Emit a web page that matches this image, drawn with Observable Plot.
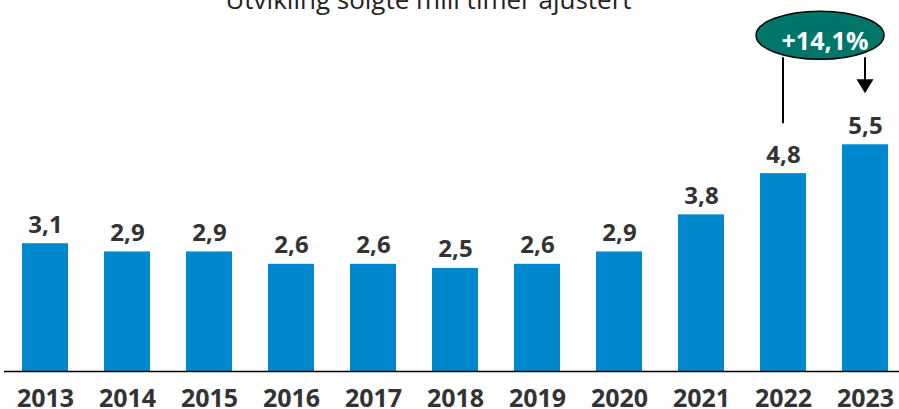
<!DOCTYPE html>
<html><head><meta charset="utf-8">
<script src="https://cdn.jsdelivr.net/npm/d3@7"></script>
<script src="https://cdn.jsdelivr.net/npm/@observablehq/plot@0.6"></script>
<style>body{margin:0;background:#fff;overflow:hidden}</style>
</head><body><div id="chart"></div>
<script>
const years = ["2013","2014","2015","2016","2017","2018","2019","2020","2021","2022","2023"];
const values = [3.1, 2.9, 2.9, 2.6, 2.6, 2.5, 2.6, 2.9, 3.8, 4.8, 5.5];
const title = "Utvikling solgte mill timer ajustert";
const growthLabel = "+14,1%";
const growthFrom = "2022";
const growthTo = "2023";

const data = years.map((year, i) => ({year, value: values[i]}));
const fmt = v => v.toFixed(1).replace(".", ",");

const plot = Plot.plot({
  width: 899, height: 409,
  marginTop: 0, marginBottom: 38, marginLeft: 22, marginRight: 11,
  style: {fontFamily: "'Open Sans', sans-serif", background: "#fff", overflow: "visible"},
  x: {domain: years, paddingInner: 0.44, paddingOuter: 0, label: null},
  y: {domain: [0, 9], axis: null},
  marks: [
    Plot.barY(data, {x: "year", y: "value", fill: "#0088CE"}),
    Plot.ruleY([0], {stroke: "#000", strokeWidth: 1.6, insetLeft: -18, insetRight: -11}),
    Plot.text(data, {x: "year", y: "value", text: d => fmt(d.value), lineAnchor: "bottom", dy: -11, fontSize: 24, fontWeight: "bold", fill: "#333"}),
    Plot.axisX({tickSize: 0, tickPadding: 18, fontSize: 25, fontWeight: "bold", fill: "#333", label: null}),
    Plot.text([title], {text: d => d, frameAnchor: "top", dx: -27, dy: 8, lineAnchor: "bottom", fontSize: 26, fill: "#222"})
  ]
});
document.getElementById("chart").appendChild(plot);

// Growth annotation positioned from the plot's own scales
const svg = d3.select(plot);
const xs = plot.scale("x"), ys = plot.scale("y");
const bw = xs.bandwidth;
const cx = k => xs.apply(k) + bw / 2;
const x1 = cx(growthFrom), x2 = cx(growthTo);
const v1 = values[years.indexOf(growthFrom)], v2 = values[years.indexOf(growthTo)];
const rx = 64, ry = 24;
const ex = (x1 + x2) / 2 - 4, ey = ys.apply(v2) - 109;
const g = svg.append("g");
g.append("line").attr("x1", x1).attr("x2", x1).attr("y1", ey + ry - 2).attr("y2", ys.apply(v1) - 50)
  .attr("stroke", "#000").attr("stroke-width", 2);
const tip = ys.apply(v2) - 51;
g.append("line").attr("x1", x2).attr("x2", x2).attr("y1", ey + ry - 2).attr("y2", tip - 12)
  .attr("stroke", "#000").attr("stroke-width", 2);
g.append("path").attr("d", `M${x2 - 8.5},${tip - 14}L${x2 + 8.5},${tip - 14}L${x2},${tip}Z`).attr("fill", "#000");
g.append("ellipse").attr("cx", ex).attr("cy", ey).attr("rx", rx).attr("ry", ry)
  .attr("fill", "#00766A").attr("stroke", "#000").attr("stroke-width", 1.5);
g.append("text").attr("x", ex + 5).attr("y", ey + 5).attr("text-anchor", "middle").attr("dominant-baseline", "central")
  .attr("font-size", 25).attr("font-weight", "bold").attr("fill", "#fff").text(growthLabel);
</script>
</body></html>
